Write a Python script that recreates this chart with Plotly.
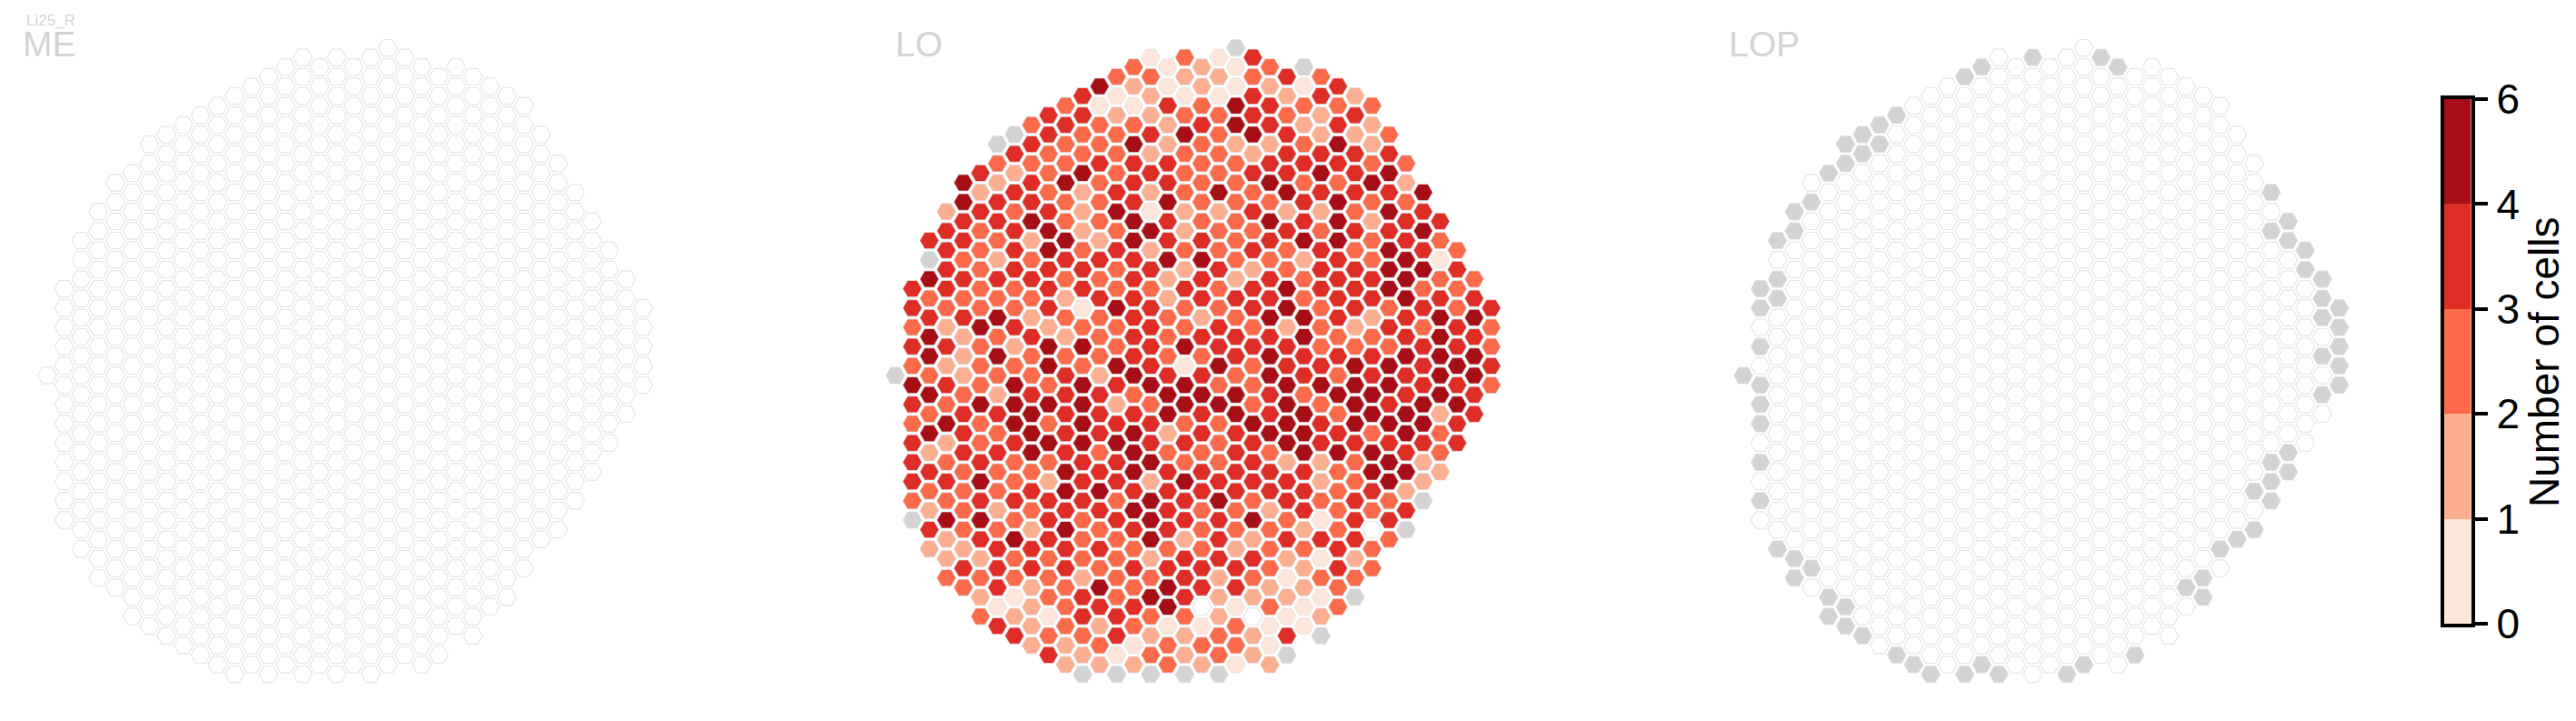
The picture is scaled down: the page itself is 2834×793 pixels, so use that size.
import plotly.graph_objects as go

# Hex lattice: one entry per column, top half-row index of each column
column_top_row = [0, -9, -14, -17, -20, -21, -24, -25, -26, -27, -28, -29, -30, -31, -32, -33, -32, -33,
                  -32, -33, -34, -33, -32, -31, -32, -31, -30, -29, -28, -25, -22, -19, -16, -13, -10, -7]

# LO: colour-bin per cell, top to bottom per column (0 = empty, 1..5 = bins, g = no data)
lo_cells = [
    "g",
    "443435434443g",
    "4g534553535243242",
    "24444324243523435223",
    "55443434222344433332" + "43",
    "4243333353335334" + "54542323",
    "g32443243535324343" + "32344414",
    "g42434443342355543" + "343533124",
    "3434452343243345553" + "432442222",
    "4433345544425535353" + "2444333134",
    "34335335432323444445" + "5454433322",
    "44335222344135355554" + "4433324432g",
    "513343332434333244434" + "5434354232",
    "312333453433533542454" + "4343333441g",
    "3213544455444444534555" + "4543434312",
    "1322424215243444453445" + "2555235323g",
    "1142244544522333455234" + "4443455133",
    "3213533322324335155343" + "5442444322g",
    "2234333334544243454434" + "4333440132",
    "1213333523343344535333" + "4544422233g",
    "g1155233333324344355444" + "4332441331",
    "4344524343424434333544" + "4352432022",
    "3244245354344545544534" + "4233323112",
    "423444524335524455552" + "443421214g",
    "g132343445233554435554" + "44232211",
    "342245423444333453442" + "23141312g",
    "434543555444434353453" + "3334433",
    "24244434344423555543" + "344423g",
    "32235323344234455355" + "43033",
    "345454555343554545" + "5343",
    "32344555445445545" + "24g",
    "545453434445542" + "2g",
    "43134555552332",
    "34334454544",
    "34545544",
    "43343",
]

# LOP: half-rows without data, per column
lop_missing = {
    0: [0], 1: [-9, -7, -3, 1, 3, 5, 9, 13], 2: [-14, -10, -8, 18], 3: [-17, -15, 19, 21],
    4: [-18, 20, 24], 5: [-21, 23, 25], 6: [-24, -22, 24, 26], 7: [-25, -23, 27], 8: [-26, -24],
    9: [-27, 29], 10: [30], 11: [31], 13: [-31, 31], 14: [-32, 30], 15: [31], 17: [-33], 19: [31],
    20: [30], 21: [-33], 22: [-32], 23: [29], 26: [22], 27: [21, 23], 28: [18], 29: [17],
    30: [12, 16], 31: [-19, -15, 9, 11, 13], 32: [-16, -14, 8, 10], 33: [-13, -11],
    34: [-10, -8, -6, -2, 2], 35: [-7, -5, -3, -1, 1],
}

panel_titles = ["ME", "LO", "LOP"]
source_label = "Li25_R"
bin_edges = [0, 1, 2, 3, 4, 6]
bin_widths = [1, 1, 1, 1, 1]
bin_colors = ["#fee5d9", "#fcae91", "#fb6a4a", "#de2d26", "#a50f15"]
colorbar_title = "Number of cells"

PAGE = 8  # default page-body margin around the figure
W, H = 2834 - 2 * PAGE, 793 - 2 * PAGE
NODATA = "#d3d3d3"
EDGE_EMPTY = "#e6e6e6"
EDGE_FILLED = "rgba(228,228,228,0.8)"
STEP_X, STEP_Y = 18.73, 10.6
ROW0_PX = 413.0 - PAGE
FIRST_COL_PX = [52.0 - PAGE, 985.0 - PAGE, 1918.0 - PAGE]
TITLE_LEFT_PX = [23 - PAGE, 983.5 - PAGE, 1900 - PAGE]
DOMAIN_PX = [(15, 735), (948, 1668), (1881, 2601)]
HEX_SIZE = 21


def cell_fill(ch):
    if ch == "g":
        return NODATA
    v = int(ch)
    return "white" if v == 0 else bin_colors[v - 1]


def panel_cells(kind):
    xs, ys, cols = [], [], []
    for c, top in enumerate(column_top_row):
        for i, ch in enumerate(lo_cells[c]):
            r = top + 2 * i
            if kind == "LO":
                fill = cell_fill(ch)
            elif kind == "LOP":
                fill = NODATA if r in lop_missing.get(c, []) else "white"
            else:
                fill = "white"
            xs.append(c)
            ys.append(r)
            cols.append(fill)
    return xs, ys, cols


fig = go.Figure()
layout = dict(
    width=W, height=H, margin=dict(l=0, r=0, t=0, b=0, pad=0, autoexpand=False),
    paper_bgcolor="white", plot_bgcolor="white",
    showlegend=False, barmode="stack", bargap=0, font=dict(family="Liberation Sans"), annotations=[],
)

for i, name in enumerate(panel_titles):
    xs, ys, cols = panel_cells(name)
    sfx = "" if i == 0 else str(i + 1)
    fig.add_trace(go.Scatter(
        x=xs, y=ys, mode="markers", xaxis="x" + sfx, yaxis="y" + sfx, hoverinfo="skip",
        marker=dict(
            symbol="hexagon2", size=HEX_SIZE, color=cols,
            line=dict(
                color=[EDGE_EMPTY if f == "white" else EDGE_FILLED for f in cols],
                width=[1.2 if f == "white" else 1 for f in cols],
            ),
        ),
    ))
    d0, d1 = DOMAIN_PX[i]
    layout["xaxis" + sfx] = dict(
        domain=[d0 / W, d1 / W], visible=False, anchor="y" + sfx,
        range=[(d0 - FIRST_COL_PX[i]) / STEP_X, (d1 - FIRST_COL_PX[i]) / STEP_X],
    )
    layout["yaxis" + sfx] = dict(
        domain=[0, 1], visible=False, anchor="x" + sfx,
        range=[(H - ROW0_PX) / STEP_Y, -ROW0_PX / STEP_Y],
    )
    layout["annotations"].append(dict(
        text=name, xref="paper", yref="paper", x=TITLE_LEFT_PX[i] / W, y=1 - (48 - PAGE) / H,
        xanchor="left", yanchor="middle", showarrow=False, font=dict(size=39, color=NODATA),
    ))

layout["annotations"].append(dict(
    text=source_label, xref="paper", yref="paper", x=(27 - PAGE) / W, y=1 - (22 - PAGE) / H,
    xanchor="left", yanchor="middle", showarrow=False, font=dict(size=17, color=NODATA),
))

# colour bar
for width, color in zip(bin_widths, bin_colors):
    fig.add_trace(go.Bar(x=[0], y=[width], xaxis="x4", yaxis="y4", marker=dict(color=color, line=dict(width=0)),
                         hoverinfo="skip", width=1))
layout["xaxis4"] = dict(
    domain=[(2688.5 - PAGE) / W, (2718.5 - PAGE) / W], range=[-0.5, 0.5], anchor="y4", showticklabels=False, ticks="",
    showline=True, mirror=True, linecolor="black", linewidth=3.5, showgrid=False, zeroline=False,
)
layout["yaxis4"] = dict(
    domain=[1 - (686 - PAGE) / H, 1 - (109 - PAGE) / H], range=[0, len(bin_widths)], anchor="x4", side="right",
    tickmode="array", tickvals=list(range(len(bin_edges))), ticktext=[str(v) for v in bin_edges],
    ticks="outside", ticklen=15, tickwidth=3.5, tickcolor="black", tickfont=dict(size=46, color="black"),
    showline=True, mirror=True, linecolor="black", linewidth=3.5, showgrid=False, zeroline=False,
)
layout["annotations"].append(dict(
    text=colorbar_title, xref="paper", yref="paper", x=(2799 - PAGE) / W, y=1 - (398 - PAGE) / H, textangle=-90,
    xanchor="center", yanchor="middle", showarrow=False, font=dict(size=46, color="black"),
))

fig.update_layout(**layout)
fig.write_html("out.html")
